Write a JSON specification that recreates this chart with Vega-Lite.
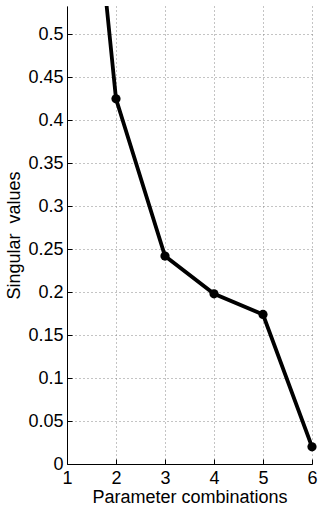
{
  "$schema": "https://vega.github.io/schema/vega-lite/v6.json",
  "width": 245,
  "height": 458,
  "autosize": {"type": "none"},
  "padding": {"left": 67, "top": 6, "right": 8, "bottom": 46},
  "background": "white",
  "config": {"view": {"stroke": null}, "font": "Liberation Sans"},
  "data": {"values": [
    {"combo": 1, "sv": 0.99},
    {"combo": 2, "sv": 0.425},
    {"combo": 3, "sv": 0.242},
    {"combo": 4, "sv": 0.198},
    {"combo": 5, "sv": 0.174},
    {"combo": 6, "sv": 0.02}
  ]},
  "encoding": {
    "x": {
      "field": "combo", "type": "quantitative",
      "scale": {"domain": [1, 6], "nice": false, "zero": false},
      "axis": {
        "values": [1, 2, 3, 4, 5, 6], "format": "d",
        "title": "Parameter combinations",
        "labelFontSize": 18, "labelColor": "black", "labelFlush": false, "labelPadding": 10,
        "titleFontSize": 18, "titleFontWeight": "normal", "titleColor": "black", "titlePadding": 1,
        "domainColor": "black", "domainWidth": 1,
        "ticks": true, "tickSize": -5, "tickColor": "black",
        "grid": true, "gridColor": "#888", "gridDash": [1, 3], "gridWidth": 1, "gridOpacity": 1
      }
    },
    "y": {
      "field": "sv", "type": "quantitative",
      "scale": {"domain": [0, 0.533], "nice": false},
      "axis": {
        "values": [0, 0.05, 0.1, 0.15, 0.2, 0.25, 0.3, 0.35, 0.4, 0.45, 0.5],
        "format": "~g",
        "title": "Singular\u00a0 values",
        "labelFontSize": 18, "labelColor": "black", "labelFlush": false, "labelPadding": 9,
        "titleFontSize": 18, "titleFontWeight": "normal", "titleColor": "black", "titlePadding": 4,
        "domainColor": "black", "domainWidth": 1,
        "ticks": true, "tickSize": -5, "tickColor": "black",
        "grid": true, "gridColor": "#888", "gridDash": [1, 3], "gridWidth": 1, "gridOpacity": 1
      }
    }
  },
  "layer": [
    {"mark": {"type": "line", "color": "black", "strokeWidth": 3.8, "clip": true}},
    {"mark": {"type": "point", "filled": true, "color": "black", "size": 85, "opacity": 1, "clip": false}}
  ]
}
